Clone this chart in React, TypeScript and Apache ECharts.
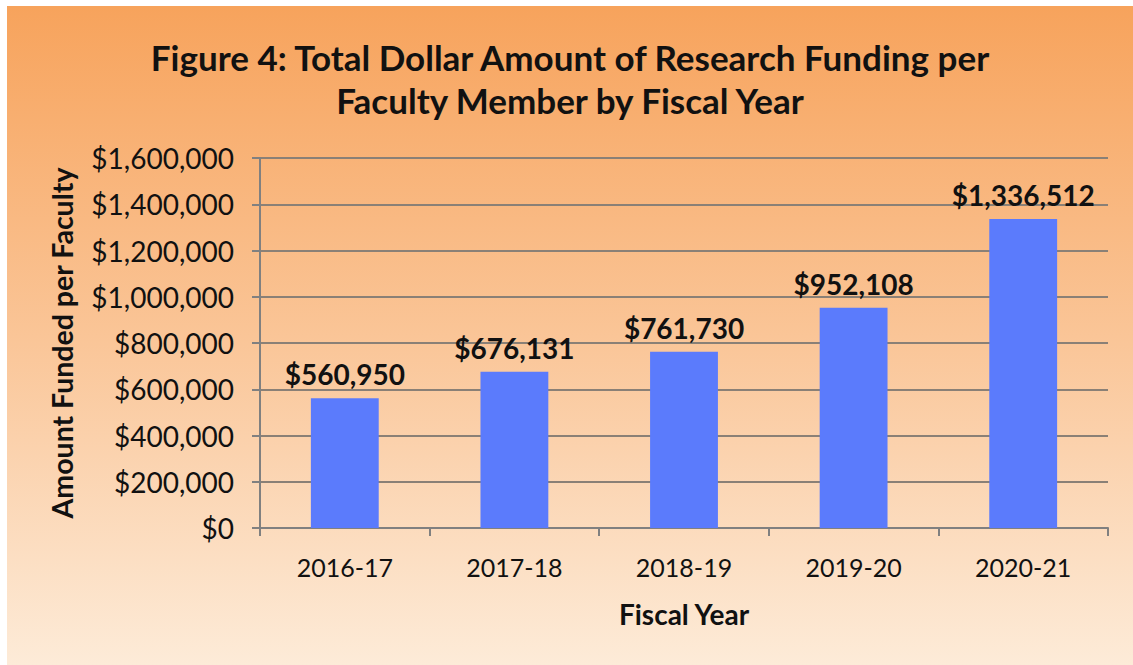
import React, { useEffect, useRef } from "react";
import * as echarts from "echarts";

const categories = ["2016-17", "2017-18", "2018-19", "2019-20", "2020-21"];
const funding = [560950, 676131, 761730, 952108, 1336512];
const titleLines = [
  "Figure 4: Total Dollar Amount of Research Funding per",
  "Faculty Member by Fiscal Year",
];
const yAxisName = "Amount Funded per Faculty";
const xAxisName = "Fiscal Year";

const fmt = (v: number) => "$" + Math.round(v).toLocaleString("en-US");

export default function App() {
  const ref = useRef<HTMLDivElement>(null);
  useEffect(() => {
    if (!ref.current) return;
    const chart = echarts.init(ref.current, null, { renderer: "svg" });
    const font = "Lato, 'Open Sans', sans-serif";
    chart.setOption({
      animation: false,
      backgroundColor: new echarts.graphic.LinearGradient(0, 0, 0, 1, [
        { offset: 0, color: "#F7A35C" },
        { offset: 0.5, color: "#FAC597" },
        { offset: 1, color: "#FDEBD8" },
      ]),
      title: {
        text: titleLines.join("\n"),
        left: "center",
        top: 24,
        textStyle: {
          fontFamily: font,
          fontWeight: "bold",
          fontSize: 35,
          lineHeight: 43,
          color: "#111",
        },
      },
      grid: { left: 253, right: 25, top: 152, bottom: 137 },
      xAxis: {
        type: "category",
        data: categories,
        axisLine: { lineStyle: { color: "#808080", width: 2 } },
        axisTick: { show: true, length: 8, lineStyle: { color: "#808080", width: 2 } },
        axisLabel: { fontFamily: font, fontSize: 25, color: "#111", margin: 26 },
        name: xAxisName,
        nameLocation: "middle",
        nameGap: 72,
        nameTextStyle: { fontFamily: font, fontSize: 28, fontWeight: "bold", color: "#111" },
      },
      yAxis: {
        type: "value",
        min: 0,
        max: 1600000,
        interval: 200000,
        axisLine: { show: true, lineStyle: { color: "#808080", width: 2 } },
        axisTick: { show: true, length: 8, lineStyle: { color: "#808080", width: 2 } },
        splitLine: { lineStyle: { color: "#8a8076", width: 2 } },
        axisLabel: {
          fontFamily: font,
          fontSize: 28,
          color: "#111",
          margin: 26,
          formatter: (v: number) => fmt(v),
        },
        name: yAxisName,
        nameLocation: "middle",
        nameRotate: 90,
        nameGap: 184,
        nameTextStyle: { fontFamily: font, fontSize: 28.5, fontWeight: "bold", color: "#111", padding: [0, 0, 0, 0] },
      },
      series: [
        {
          type: "bar",
          data: funding,
          barWidth: "40%",
          itemStyle: { color: "#5B7BFC" },
          label: {
            show: true,
            position: "top",
            distance: 10,
            fontFamily: font,
            fontSize: 28,
            fontWeight: "bold",
            color: "#111",
            formatter: (p: any) => fmt(p.value),
          },
        },
      ],
    });
    return () => chart.dispose();
  }, []);
  return (
    <div
      ref={ref}
      style={{ position: "absolute", left: 7, top: 6, width: 1126, height: 659 }}
    />
  );
}
